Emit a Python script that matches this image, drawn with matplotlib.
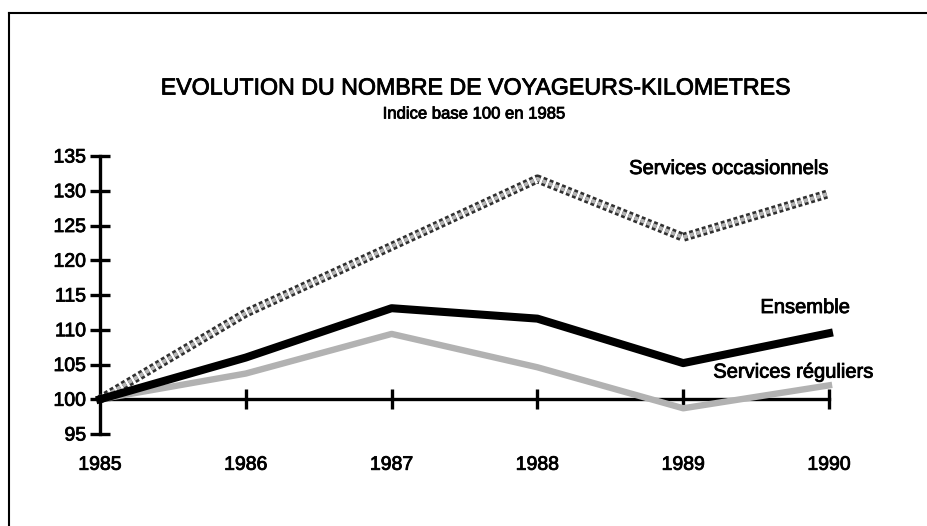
import matplotlib.pyplot as plt
import matplotlib.patheffects as pe

plt.rcParams['font.family'] = ['Liberation Sans', 'DejaVu Sans']

# data
years = [1985, 1986, 1987, 1988, 1989, 1990]
occasionnels = [100, 112.4, 122.0, 131.7, 123.3, 129.6]
ensemble = [100, 106.0, 113.1, 111.6, 105.2, 109.5]
reguliers = [100, 103.7, 109.4, 104.6, 98.7, 102.0]
yticks = [95, 100, 105, 110, 115, 120, 125, 130, 135]

# slightly heavier text, like the scanned original
heavy = [pe.withStroke(linewidth=0.6, foreground='black')]

fig = plt.figure(figsize=(9.28, 5.26), dpi=100)
ax = fig.add_axes([100/928, 1-434/526, 729/928, 278/526])

# lines
ax.plot(years, occasionnels, color='#b4b4b4', lw=2.8, ls=(0, (1, 0.7)), clip_on=False,
        zorder=4,
        path_effects=[pe.Stroke(linewidth=6.5, foreground='#303030'), pe.Normal()])
ax.plot(years, ensemble, color='black', lw=5.8, clip_on=False, zorder=5)
ax.plot(years, reguliers, color='#b2b2b2', lw=4.6, clip_on=False, zorder=3)

ax.set_xlim(1985, 1990)
ax.set_ylim(95, 135)

for s in ['top', 'right']:
    ax.spines[s].set_visible(False)
ax.spines['bottom'].set_position(('data', 100))
ax.spines['left'].set_linewidth(2.4)
ax.spines['bottom'].set_linewidth(2.4)

ax.set_yticks(yticks)
ax.set_yticklabels([str(v) for v in yticks], fontsize=14)
for lbl in ax.get_yticklabels():
    lbl.set_path_effects(heavy)
ax.set_xticks(years[1:])
ax.set_xticklabels([])
ax.tick_params(axis='both', direction='inout', length=14, width=2.4, color='black')
ax.tick_params(axis='y', pad=3)

for yr in years:
    ax.text(yr, 90.5, str(yr), ha='center', va='center', fontsize=14, clip_on=False,
            path_effects=heavy)

# series labels
ax.text(1990, 133.2, 'Services occasionnels', ha='right', va='center', fontsize=14.5,
        path_effects=heavy)
ax.text(1990.144, 113.2, 'Ensemble', ha='right', va='center', fontsize=14.5,
        path_effects=heavy)
ax.text(1990.308, 103.9, 'Services réguliers', ha='right', va='center', fontsize=14.5,
        path_effects=heavy)

# titles
fig.text(474/928, 1-88/526, 'EVOLUTION DU NOMBRE DE VOYAGEURS-KILOMETRES',
         ha='center', va='center', fontsize=16.7, path_effects=heavy)
fig.text(474/928, 1-114/526, 'Indice base 100 en 1985', ha='center', va='center',
         fontsize=12, path_effects=heavy)

# page frame (left and top edges)
fig.add_artist(plt.Line2D([9/928, 9/928], [0, 1-13/526], transform=fig.transFigure,
                          color='black', lw=1.5))
fig.add_artist(plt.Line2D([9/928, 1], [1-13/526, 1-13/526], transform=fig.transFigure,
                          color='black', lw=1.5))

fig.savefig('out.png', dpi=100)
